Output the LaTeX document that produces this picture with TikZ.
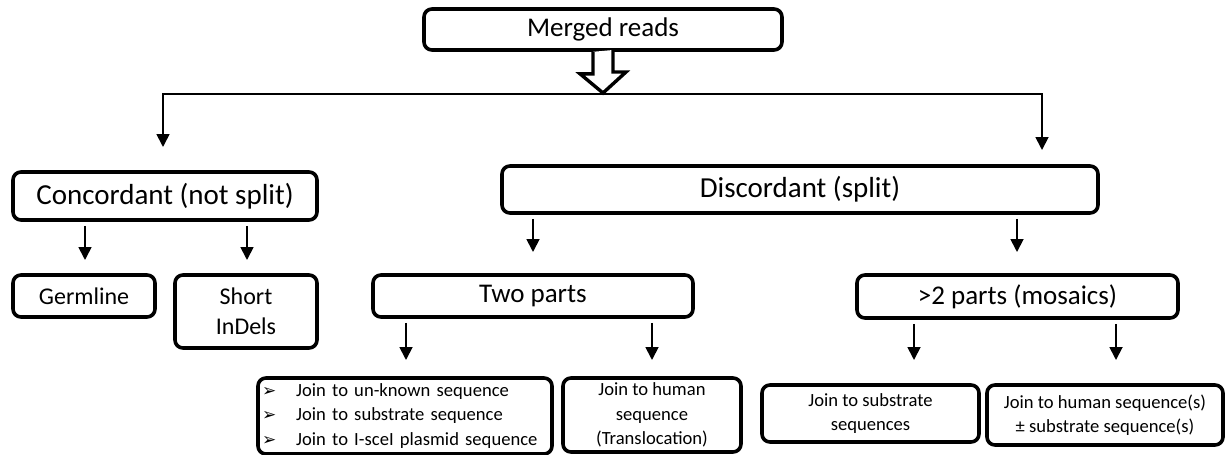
\documentclass[tikz,border=0pt]{standalone}
\usepackage{fontspec}
\setmainfont{Carlito}
\newfontfamily\symfont{DejaVu Sans}
\usetikzlibrary{arrows.meta}

\newcommand{\pointer}{{\symfont\fontsize{8.5}{9}\selectfont ➢}\hspace{10pt}}

\begin{document}
\begin{tikzpicture}[x=0.5pt,y=-0.5pt, every node/.style={align=center,inner sep=2pt},
 box/.style={draw,line width=1.8pt,rounded corners=4pt},
 big/.style={font=\fontsize{14.5}{17}\selectfont},
 mid/.style={font=\fontsize{13.5}{16}\selectfont},
 small/.style={font=\fontsize{12}{15}\selectfont},
 tiny/.style={font=\fontsize{9.3}{12.2}\selectfont},
 hollow/.style={line width=1.7pt,fill=white,line join=miter},
 arr/.style={-{Triangle[length=6.5pt,width=6.5pt]},line width=0.9pt}]
\useasboundingbox (0,0) rectangle (1226,455);
% top level
\node[box,mid,minimum width=179pt,minimum height=20.5pt] (merged) at (603,29.5) {Merged reads};
\coordinate (split) at (603,94);
\draw[hollow] ([xshift=-5pt]merged.south) -- ++(0,22) -- ++(-13,0) -- ([yshift=0.5pt]split)
  -- ++(23,-21) -- ++(-13,0) -- ++(0,-22);
\coordinate (lt) at (163,147);
\coordinate (rt) at (1042,150);
\draw[arr] (split) -| (lt);
\draw[arr] (split) -| (rt);
% second level
\node[box,big,minimum width=152pt,minimum height=24pt] (conc) at (165,196) {Concordant (not split)};
\node[box,big,minimum width=298pt,minimum height=23.5pt] (disc) at (800,189.5) {Discordant (split)};
% third level
\node[box,small,minimum width=71pt,minimum height=21pt] (germ) at (84,296) {Germline};
\node[box,small,minimum width=71pt,minimum height=36.5pt] (indel) at (246,311.5) {Short\\InDels};
\node[box,mid,minimum width=160pt,minimum height=21pt] (two) at (533,296) {Two parts};
\node[box,mid,minimum width=160.5pt,minimum height=21.5pt] (more) at (1017.5,296.5) {>2 parts (mosaics)};
% bottom level
\node[box,tiny,text width=143pt,minimum height=38pt,align=left] (list) at (405,416)
  {\pointer Join to un-known sequence\\\pointer Join to substrate sequence\\\pointer Join to I-sceI plasmid sequence};
\node[box,tiny,minimum width=89pt,minimum height=37pt] (trans) at (652,415) {Join to human\\sequence\\(Translocation)};
\node[box,tiny,minimum width=108.5pt,minimum height=28.5pt] (sub) at (870.5,413.5) {Join to substrate\\sequences};
\node[box,tiny,minimum width=118pt,minimum height=30pt] (hum) at (1105,415) {Join to human sequence(s)\\± substrate sequence(s)};
% small arrows
\coordinate (c1) at (85,260);  \coordinate (c2) at (247,260);
\coordinate (d1) at (533,252); \coordinate (d2) at (1017,252);
\coordinate (t1) at (406,360); \coordinate (t2) at (652,360);
\coordinate (m1) at (914,360); \coordinate (m2) at (1116,360);
\foreach \p/\c in {conc/c1,conc/c2,disc/d1,disc/d2,two/t1,two/t2,more/m1,more/m2}
  \draw[arr,shorten <=2pt] (\p.south -| \c) -- (\c);
\end{tikzpicture}
\end{document}
